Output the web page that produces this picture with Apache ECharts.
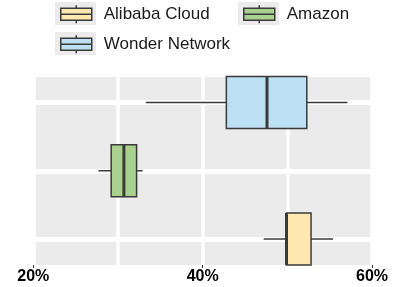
<!DOCTYPE html>
<html>
<head>
<meta charset="utf-8">
<script src="https://cdn.jsdelivr.net/npm/echarts@6/dist/echarts.min.js"></script>
<style>
  html, body { margin: 0; padding: 0; background: #ffffff; }
  #chart { width: 399px; height: 287px; }
</style>
</head>
<body>
<div id="chart"></div>
<script>
// ---- data ----
const categories = ['Alibaba Cloud', 'Amazon', 'Wonder Network']; // bottom -> top
const seriesNames = ['Alibaba Cloud', 'Amazon', 'Wonder Network'];
// [min, Q1, median, Q3, max] in percent
const alibabaStats = [47.2, 49.9, 49.9, 52.8, 55.4];
const amazonStats = [27.7, 29.2, 30.7, 32.2, 32.9];
const wonderStats = [33.3, 42.8, 47.6, 52.3, 57.1];
const xTickValues = [20, 40, 60];

// ---- styles ----
const fills = { 'Alibaba Cloud': '#FEE8B0', 'Amazon': '#A9D18E', 'Wonder Network': '#BCE0F2' };
const EDGE = '#3a3a3a';
const PANEL = '#EBEBEB';
const BOX_FRAC = 0.76;
const FONT = '"Liberation Sans", Arial, Helvetica, sans-serif';

function renderBox(params, api) {
  const cat = api.value(0);
  const lo = api.coord([api.value(1), cat]);
  const q1 = api.coord([api.value(2), cat]);
  const med = api.coord([api.value(3), cat]);
  const q3 = api.coord([api.value(4), cat]);
  const hi = api.coord([api.value(5), cat]);
  const half = api.size([0, 1])[1] * BOX_FRAC / 2;
  const fill = api.visual('color');
  return {
    type: 'group',
    children: [
      { type: 'line', shape: { x1: lo[0], y1: lo[1], x2: q1[0], y2: q1[1] }, style: { stroke: EDGE, lineWidth: 1.5 } },
      { type: 'line', shape: { x1: q3[0], y1: q3[1], x2: hi[0], y2: hi[1] }, style: { stroke: EDGE, lineWidth: 1.5 } },
      { type: 'rect', shape: { x: q1[0], y: q1[1] - half, width: q3[0] - q1[0], height: 2 * half },
        style: { fill: fill, stroke: EDGE, lineWidth: 1.5 } },
      { type: 'line', shape: { x1: med[0], y1: med[1] - half, x2: med[0], y2: med[1] + half },
        style: { stroke: EDGE, lineWidth: 3 } }
    ]
  };
}

function makeSeries(name, stats) {
  return {
    name: name,
    type: 'custom',
    xAxisIndex: 1,
    yAxisIndex: 1,
    renderItem: renderBox,
    encode: { x: [1, 2, 3, 4, 5], y: 0 },
    itemStyle: { color: fills[name] },
    z: 3,
    data: [[categories.indexOf(name)].concat(stats)]
  };
}

const GLYPH = 'path://M0,0 M41,23 M5,5.5 L36,5.5 L36,17.5 L5,17.5 Z M20.5,2.5 L20.5,5.5 M20.5,17.5 L20.5,20.5 M5,11.5 L36,11.5';

function legendPair(name, left, top) {
  return [
    {
      data: [name], left: left, top: top, padding: 0, icon: 'rect',
      itemWidth: 41, itemHeight: 23, selectedMode: false,
      itemStyle: { color: PANEL, borderWidth: 0 },
      formatter: function () { return ''; },
      textStyle: { fontSize: 10, color: 'rgba(0,0,0,0)' }
    },
    {
      data: [name], left: left, top: top, padding: 0, icon: GLYPH,
      itemWidth: 41, itemHeight: 23, selectedMode: false,
      itemStyle: { borderColor: EDGE, borderWidth: 1.5 },
      textStyle: { fontSize: 17, color: '#1a1a1a', fontFamily: FONT, padding: [0, 0, 0, 2] }
    }
  ];
}

const chart = echarts.init(document.getElementById('chart'), null, { renderer: 'canvas' });

const option = {
  animation: false,
  backgroundColor: '#ffffff',
  legend: [].concat(
    legendPair('Alibaba Cloud', 55, 2),
    legendPair('Amazon', 238, 2),
    legendPair('Wonder Network', 55, 32)
  ),
  grid: [
    { show: true, backgroundColor: PANEL, borderWidth: 0, left: 33.3, right: 27, top: 77, bottom: 22 },
    { show: false, left: 33.3, right: 27, top: 102.5, bottom: 48 }
  ],
  xAxis: [
    {
      gridIndex: 0, type: 'value', min: 20, max: 60, interval: 20,
      axisLine: { show: false },
      axisTick: { show: true, length: 3, lineStyle: { color: '#333333', width: 1 } },
      axisLabel: {
        margin: 4, fontSize: 16, fontWeight: 'bold', color: '#000000', fontFamily: FONT,
        formatter: function (v) { return xTickValues.indexOf(v) >= 0 ? v + '%' : ''; }
      },
      splitLine: { show: true, lineStyle: { color: '#ffffff', width: 3.5 } },
      minorTick: { show: false, splitNumber: 2 },
      minorSplitLine: { show: true, lineStyle: { color: '#ffffff', width: 3.5 } }
    },
    { gridIndex: 1, type: 'value', min: 20, max: 60, show: false }
  ],
  yAxis: [
    { gridIndex: 0, type: 'value', show: false, splitLine: { show: false } },
    {
      gridIndex: 1, type: 'category', data: categories, boundaryGap: false,
      axisLine: { show: false }, axisTick: { show: false }, axisLabel: { show: false },
      splitLine: { show: true, lineStyle: { color: '#ffffff', width: 5 } }
    }
  ],
  series: [
    makeSeries('Alibaba Cloud', alibabaStats),
    makeSeries('Amazon', amazonStats),
    makeSeries('Wonder Network', wonderStats)
  ]
};

chart.setOption(option);
</script>
</body>
</html>
